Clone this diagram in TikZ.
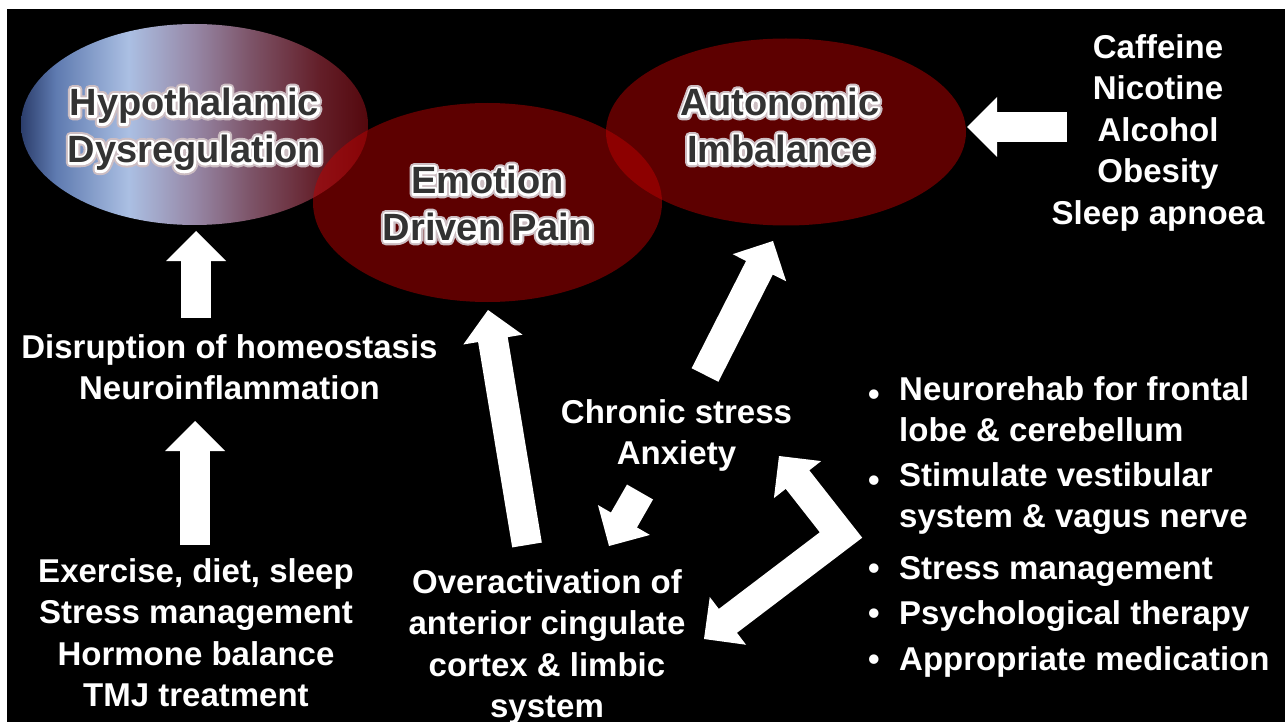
\documentclass[tikz,border=0pt]{standalone}
\usepackage{fontspec}
\setmainfont{Liberation Sans}
\usetikzlibrary{calc}

\definecolor{glowtxt}{RGB}{51,51,51}
\definecolor{ovalred}{RGB}{191,0,0}

% dark lettering with a white halo: a soft wide stroke, a white stroke, then the filled text
\newcommand\glow[1]{\leavevmode
  \rlap{\special{pdf:literal direct 0.8 0.74 0.76 rg 0.8 0.74 0.76 RG 1 Tr 9 w 1 j}#1}%
  \rlap{\special{pdf:literal direct 1 g 1 G 2 Tr 5 w 1 j}#1\special{pdf:literal direct 0 Tr 0.2 g 0.2 G}}#1}

% blue-to-red sweep across the hypothalamus oval (25bp..75bp spans the oval)
\pgfdeclarehorizontalshading{hyposhade}{100bp}{%
  rgb(0bp)=(0.17,0.24,0.42);
  rgb(25bp)=(0.17,0.24,0.42);
  rgb(30bp)=(0.37,0.48,0.69);
  rgb(40.5bp)=(0.67,0.75,0.89);
  rgb(50bp)=(0.59,0.53,0.65);
  rgb(58bp)=(0.49,0.33,0.41);
  rgb(68bp)=(0.39,0.12,0.16);
  rgb(75bp)=(0.33,0.03,0.05);
  rgb(100bp)=(0.33,0.03,0.05)}

% arrow head with its tip at #2, pointing away from #1
\newcommand\headto[2]{%
  \coordinate (hb) at ($(#2)!30pt!(#1)$);
  \fill[arrowhead] ($(hb)!30pt!90:(#2)$) -- (#2) -- ($(hb)!30pt!-90:(#2)$) -- cycle;}
% straight block arrow from #1 to #2
\newcommand\blockarrow[2]{%
  \headto{#1}{#2}%
  \draw[arrowbody] (#1) -- ($(#2)!29pt!(#1)$);}

\begin{document}
\begin{tikzpicture}[x=1pt,y=-1pt,
  body/.style={text=white, font=\fontsize{33}{41.5}\selectfont\bfseries,
    align=center, inner sep=0pt, anchor=north,
    execute at begin node=\strut},
  itemtxt/.style={body, align=left, anchor=north west},
  oval label/.style={text=glowtxt, font=\fontsize{38}{47}\selectfont\bfseries,
    align=center, inner sep=0pt, anchor=north,
    execute at begin node=\strut},
  red oval/.style={fill=ovalred, fill opacity=0.49},
  arrowbody/.style={draw=white, line width=30pt},
  arrowhead/.style={fill=white}]

\useasboundingbox (0,0) rectangle (1285,722);
\fill[white] (0,0) rectangle (1285,722);
\fill[black] (7,9) rectangle (1285,722);

% ovals
\shade[shading=hyposhade] (194.5,124.5) ellipse [x radius=173.5pt, y radius=100.5pt];
\path[red oval] (487.5,202.5) ellipse [x radius=174.5pt, y radius=99.5pt];
\path[red oval] (786,132) ellipse [x radius=180pt, y radius=93.5pt];

% oval labels
\node[oval label] (hypo) at (194.5,88) {\glow{Hypothalamic}\\\glow{Dysregulation}};
\node[oval label] (emo) at (487.5,166) {\glow{Emotion}\\\glow{Driven Pain}};
\node[oval label] (auto) at (780,88) {\glow{Autonomic}\\\glow{Imbalance}};

% plain labels
\node[body] (risks) at (1158,34) {Caffeine\\Nicotine\\Alcohol\\Obesity\\Sleep apnoea};
\node[body] (disrupt) at (229.5,334) {Disruption of homeostasis\\Neuroinflammation};
\node[body] (lifestyle) at (196,558) {Exercise, diet, sleep\\Stress management\\Hormone balance\\TMJ treatment};
\node[body] (stress) at (676.5,399) {Chronic stress\\Anxiety};
\node[body] (acc) at (547,569) {Overactivation of\\anterior cingulate\\cortex \& limbic\\system};

% treatment list
\node[body] (b1) at (874,376) {\textbullet};
\node[body] (b2) at (874,462) {\textbullet};
\node[body] (b3) at (874,550) {\textbullet};
\node[body] (b4) at (874,595) {\textbullet};
\node[body] (b5) at (874,641) {\textbullet};
\node[itemtxt] (t1) at (899,376) {Neurorehab for frontal\\lobe \& cerebellum};
\node[itemtxt] (t2) at (899,462) {Stimulate vestibular\\system \& vagus nerve};
\node[itemtxt] (t3) at (899,550) {Stress management};
\node[itemtxt] (t4) at (899,595) {Psychological therapy};
\node[itemtxt] (t5) at (899,641) {Appropriate medication};

% arrow end points
\coordinate (up1s) at (196,318);  \coordinate (up1e) at (196,231);
\coordinate (up2s) at (195,545);  \coordinate (up2e) at (195,421);
\coordinate (lfts) at (1067,127); \coordinate (lfte) at (967,127);
\coordinate (accs) at (527,545);  \coordinate (acce) at (488,310);
\coordinate (anss) at (705,375);  \coordinate (anse) at (773,241);
\coordinate (strs) at (640,492);  \coordinate (stre) at (609,546);
\coordinate (dup) at (779,456);   \coordinate (elb) at (841,535);
\coordinate (dlo) at (704,639);

% arrows
\blockarrow{up1s}{up1e}
\blockarrow{up2s}{up2e}
\blockarrow{lfts}{lfte}
\blockarrow{accs}{acce}
\blockarrow{anss}{anse}
\blockarrow{strs}{stre}
\headto{elb}{dup}
\headto{elb}{dlo}
\draw[arrowbody, line join=miter] ($(dup)!29pt!(elb)$) -- (elb) -- ($(dlo)!29pt!(elb)$);
\end{tikzpicture}
\end{document}
